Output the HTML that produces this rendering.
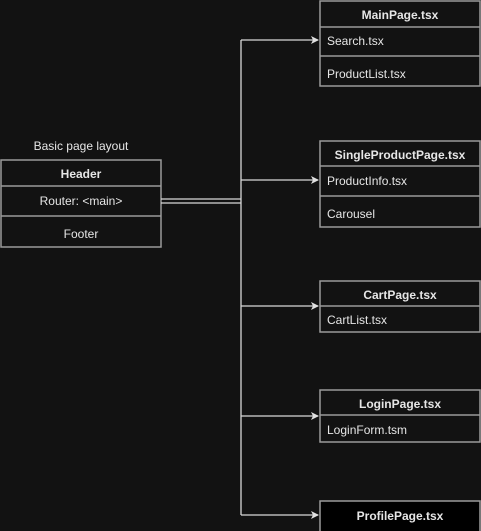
<!DOCTYPE html>
<html><head><meta charset="utf-8"><style>
html,body{margin:0;padding:0;background:#121212;}
svg{display:block}
text{font-family:"Liberation Sans",Arial,sans-serif;font-size:12px;fill:#e6e6e6}
.b{font-weight:bold}
</style></head><body>
<svg width="481" height="531" viewBox="0 0 481 531" xmlns="http://www.w3.org/2000/svg">
<defs><marker id="a" markerWidth="8" markerHeight="8" refX="7" refY="4" orient="auto" markerUnits="userSpaceOnUse"><path d="M0,0 L8,4 L0,8 L2,4 Z" fill="#e0e0e0"/></marker></defs>
<g fill="none" stroke="#9a9a9a" stroke-width="1.5">
<rect x="1" y="160" width="160" height="87"/>
<line x1="1" y1="186" x2="161" y2="186"/>
<line x1="1" y1="216" x2="161" y2="216"/>
<rect x="320" y="1" width="160" height="85"/>
<line x1="320" y1="27" x2="480" y2="27"/>
<line x1="320" y1="56" x2="480" y2="56"/>
<rect x="320" y="141" width="160" height="86"/>
<line x1="320" y1="166" x2="480" y2="166"/>
<line x1="320" y1="196" x2="480" y2="196"/>
<rect x="320" y="281" width="160" height="51"/>
<line x1="320" y1="306" x2="480" y2="306"/>
<rect x="320" y="390" width="160" height="52"/>
<line x1="320" y1="415" x2="480" y2="415"/>
<rect x="320" y="501" width="160" height="40" fill="#000"/>
</g>
<g fill="none" stroke="#d8d8d8" stroke-width="1.3">
<line x1="161" y1="199" x2="241" y2="199"/>
<line x1="161" y1="203" x2="241" y2="203"/>
<line x1="241" y1="40" x2="241" y2="515"/>
<line x1="241" y1="40" x2="318" y2="40" marker-end="url(#a)"/>
<line x1="241" y1="180" x2="318" y2="180" marker-end="url(#a)"/>
<line x1="241" y1="306" x2="318" y2="306" marker-end="url(#a)"/>
<line x1="241" y1="416" x2="318" y2="416" marker-end="url(#a)"/>
<line x1="241" y1="515" x2="318" y2="515" marker-end="url(#a)"/>
</g>
<text x="81" y="150" text-anchor="middle">Basic page layout</text>
<text x="81" y="178" text-anchor="middle" class="b">Header</text>
<text x="81" y="205" text-anchor="middle">Router: &lt;main&gt;</text>
<text x="81" y="238" text-anchor="middle">Footer</text>
<text x="400" y="19" text-anchor="middle" class="b">MainPage.tsx</text>
<text x="327" y="45">Search.tsx</text>
<text x="327" y="78">ProductList.tsx</text>
<text x="400" y="159" text-anchor="middle" class="b">SingleProductPage.tsx</text>
<text x="327" y="185">ProductInfo.tsx</text>
<text x="327" y="218">Carousel</text>
<text x="400" y="299" text-anchor="middle" class="b">CartPage.tsx</text>
<text x="327" y="324">CartList.tsx</text>
<text x="400" y="408" text-anchor="middle" class="b">LoginPage.tsx</text>
<text x="327" y="434">LoginForm.tsm</text>
<text x="400" y="520" text-anchor="middle" class="b">ProfilePage.tsx</text>
</svg>
</body></html>
